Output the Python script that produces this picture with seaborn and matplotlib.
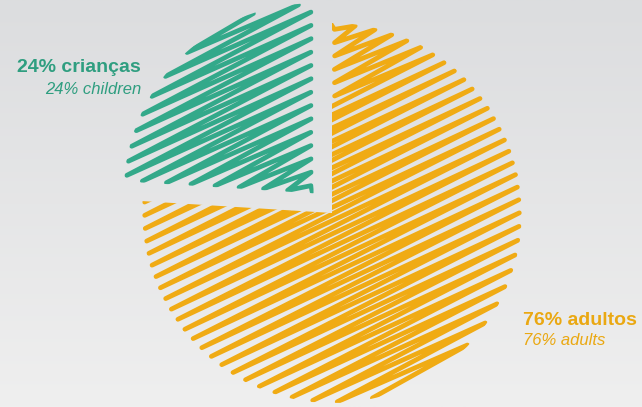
import matplotlib
matplotlib.use('Agg')
import matplotlib.pyplot as plt
import seaborn as sns
import numpy as np

# data
groups = ['crianças', 'adultos']
groups_en = ['children', 'adults']
shares = [24, 76]
colors = ['#33a98a', '#f0ab14']
text_colors = ['#2f9e80', '#eaa812']

sns.set_theme(style='white')
plt.rcParams['font.family'] = ['Liberation Sans', 'DejaVu Sans']

W, H = 642, 407
fig = plt.figure(figsize=(W / 100, H / 100), dpi=100)
ax = fig.add_axes([0, 0, 1, 1])

wedges, _ = ax.pie(shares, startangle=90, counterclock=True, radius=190, center=(332, 194),
                   explode=[27, 0], wedgeprops=dict(facecolor='none', edgecolor='none'))


def scribble(ax, wedge, color, step=6.0, angle=26, inset=2.5):
    """Fill a wedge with a zigzag pen stroke, clipped to the wedge."""
    cx, cy = wedge.center
    r = wedge.r
    t1, t2 = wedge.theta1 % 360, wedge.theta2 % 360
    a = np.deg2rad(angle)
    u = np.array([np.cos(a), np.sin(a)])
    n = np.array([-np.sin(a), np.cos(a)])
    ts = np.linspace(-r, r, 800)
    verts = []
    k = 0
    for s in np.arange(-r, r, step):
        px = cx + ts * u[0] + s * n[0]
        py = cy + ts * u[1] + s * n[1]
        d = np.hypot(px - cx, py - cy)
        ang = np.degrees(np.arctan2(py - cy, px - cx)) % 360
        if t1 <= t2:
            in_ang = (ang >= t1) & (ang <= t2)
        else:
            in_ang = (ang >= t1) | (ang <= t2)
        inside = (d <= r) & in_ang
        if inside.sum() < 2:
            continue
        tin = ts[inside]
        t = tin.min() + inset if k % 2 == 0 else tin.max() - inset
        verts.append((cx + t * u[0] + s * n[0], cy + t * u[1] + s * n[1]))
        k += 1
    verts = np.array(verts)
    line, = ax.plot(verts[:, 0], verts[:, 1], color=color, lw=3.4,
                    solid_joinstyle='round', solid_capstyle='round', zorder=3)
    line.set_clip_path(wedge)


for w, c in zip(wedges, colors):
    scribble(ax, w, c)

# background gradient
grad = np.linspace(0, 1, 256).reshape(-1, 1)
ax.imshow(grad, extent=(0, W, 0, H), cmap=matplotlib.colors.LinearSegmentedColormap.from_list(
    'bg', ['#efefef', '#dcdddf']), origin='lower', aspect='auto', zorder=0)

ax.set_xlim(0, W)
ax.set_ylim(0, H)
ax.axis('off')

# labels
ax.text(141, 335, f'{shares[0]}% {groups[0]}', ha='right', va='baseline', fontsize=14,
        fontweight='bold', color=text_colors[0])
ax.text(141, 313, f'{shares[0]}% {groups_en[0]}', ha='right', va='baseline', fontsize=12,
        fontstyle='italic', color=text_colors[0])
ax.text(523, 82, f'{shares[1]}% {groups[1]}', ha='left', va='baseline', fontsize=14,
        fontweight='bold', color=text_colors[1])
ax.text(523, 62, f'{shares[1]}% {groups_en[1]}', ha='left', va='baseline', fontsize=12,
        fontstyle='italic', color=text_colors[1])

fig.savefig('out.png', dpi=100)
